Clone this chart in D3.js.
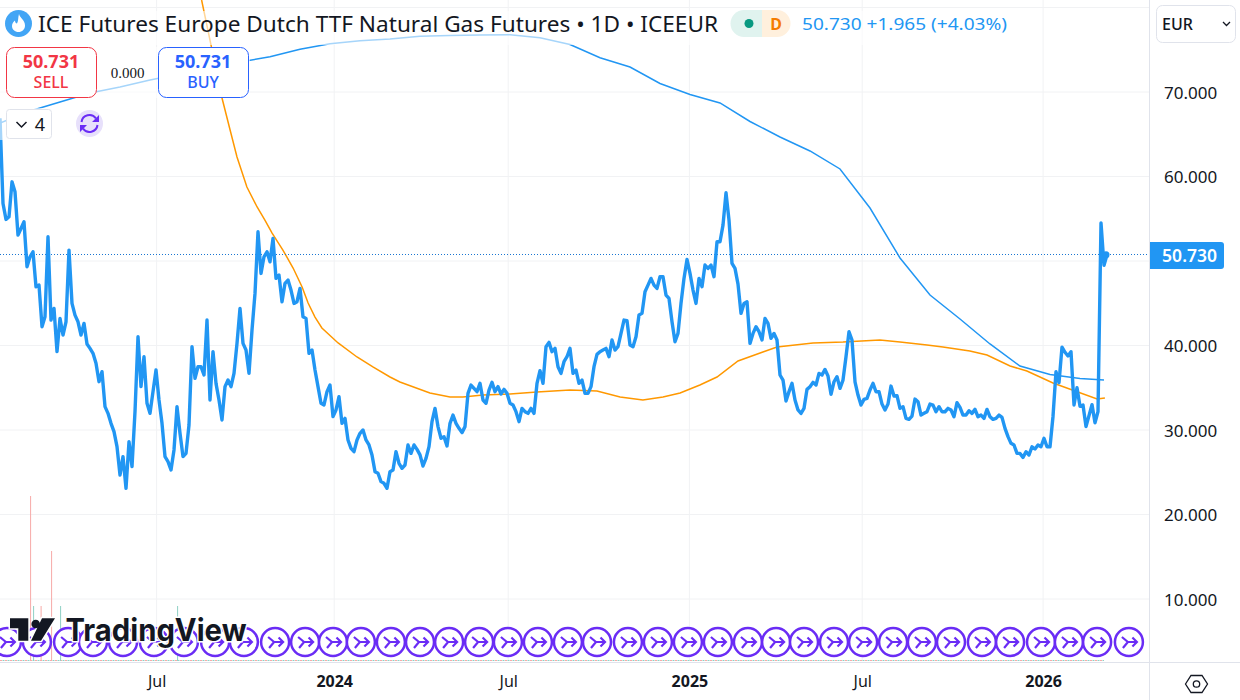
<!DOCTYPE html>
<html>
<head>
<meta charset="utf-8">
<title>Dutch TTF Natural Gas Futures</title>
<script src="https://cdn.jsdelivr.net/npm/d3@7/dist/d3.min.js"></script>
<style>
  html, body { margin: 0; padding: 0; background: #fff; }
  svg { display: block; font-family: "Noto Sans", sans-serif; }
  .axis path { display: none; }
</style>
</head>
<body>
<svg id="chart" width="1240" height="700"></svg>
<script>
// Daily closes, sampled every couple of sessions
const closes = [
  66.9,56.81,54.92,55.23,59.37,58.19,53.06,53.85,54.64,49.32,
  50.5,51.09,46.95,47.15,42.22,43.4,52.87,43.01,44.39,39.27,
  43.21,41.24,42.81,51.29,44.98,43.6,42.81,41.24,42.62,40.17,
  39.66,39.07,37.89,35.72,36.9,32.76,31.97,30.79,29.8,28.03,
  24.68,26.85,23.1,28.62,25.67,32.17,41.04,35.13,38.67,33.16,
  31.97,34.54,37.1,33.55,30.79,26.85,26.26,25.27,27.64,32.76,
  29.61,26.85,27.24,30.59,39.86,36.11,37.49,37.49,36.51,43.01,
  33.55,39.27,35.52,33.55,31.19,35.13,35.91,35.13,36.7,40.25,
  44.39,40.25,39.46,36.7,41.83,46.16,53.46,48.53,50.5,51.09,
  49.91,52.67,47.94,48.33,45.18,47.35,47.74,46.56,44.98,45.18,
  46.76,43.4,43.21,39.07,39.46,37.1,35.13,33.16,32.96,34.54,
  35.32,31.58,32.37,33.94,30.79,31.38,28.82,27.83,27.44,28.82,
  29.61,30,28.82,28.23,27.05,25.07,24.88,23.89,23.69,23.1,
  25.07,25.27,27.44,26.06,
  25.47,25.86,28.23,27.24,28.23,27.71,27.05,25.74,26.65,28.03,
  30.99,32.56,30.4,29.02,29.21,28.11,30.79,31.77,30.79,30.2,
  29.69,30.4,34.34,35.32,34.93,34.54,35.52,33.55,33.16,34.73,
  35.64,34.54,35.13,34.26,34.81,34.34,33.16,32.96,32.17,30.99,
  32.56,32.17,31.97,32.56,31.97,35.52,37.02,35.52,39.86,40.37,
  39.27,39.66,37.49,36.7,38.08,38.67,39.66,36.7,37.1,35.52,
  35.91,34.34,34.34,35.13,37.49,38.95,39.27,39.46,39.66,38.67,
  40.65,39.46,39.86,41.43,43.01,42.93,40.05,39.86,41.04,43.6,
  43.8,46.36,47.15,47.94,47.15,46.76,48.14,48.14,45.97,45.57,
  42.81,40.45,41.43,44.98,47.94,50.19,48.53,46.56,44.98,47.94,
  46.95,49.52,49.12,49.52,48.14,52.27,52.27,54.25,58.07,54.84,
  49.71,49.12,47.27,43.8,44.98,45.18,40.25,41.43,42.22,41.63,
  40.65,43.21,42.62,40.84,41.43,40.65,36.51,35.91,33.43,34.54,
  35.52,33.55,32.37,
  31.97,32.56,34.81,35.12,35.64,35.32,36.7,36.5,37.17,36.39,
  34.22,35.71,36.31,34.93,35.91,38.67,41.63,40.65,35.71,34.14,
  32.95,33.62,33.74,34.73,35.52,34.53,34.53,33.07,32.36,33.07,
  35.2,34.02,34.06,32.56,32.76,31.38,31.26,31.65,33.66,33.35,
  31.77,31.97,32.16,33.07,32.95,32.16,32.76,32.16,32.16,32.56,
  32.36,31.57,33.23,32.68,31.77,31.77,32.28,31.97,32.44,31.57,
  31.77,31.38,32.44,31.57,31.26,31.38,31.77,31.49,30.19,29.21,
  28.42,28.22,27.23,27.23,26.76,27.43,27.04,28.02,27.75,28.22,
  28.02,29.01,28.02,28.02,31.6,36.9,35.6,39.8,39.2,38.76,
  39.27,32.96,35,32.8,32.96,30.4,31.7,33,30.86,
  32.17,54.5,49.5,50.73
];

// Moving averages, read at their own bars
const blueMaBars = [0,10,20,30,40,50,60,70,80,90,100,110,120,130,140,150,160,170,180,190,200,210,220,230,240,250,260,270,280,290,300,310,320,330,340,350,360,368];
const blueMa = [66.33,67.75,68.82,69.88,70.59,71.42,72.13,72.78,73.55,74.18,75.05,75.72,76.07,76.27,76.59,76.7,76.75,76.77,76.43,75.62,74.06,72.96,71.01,69.7,68.7,66.51,64.67,63.02,60.89,56.27,50.36,45.98,43.14,40.18,37.57,36.57,36.09,35.92];
const orangeMaBars = [67.2,70,74,76.7,79,82.3,85.7,88.3,90.7,94.3,97.7,100.7,102.7,105,107.3,112.7,119,124.3,130,133.3,143.3,150,154.3,161,170,179,190,199,206.7,214.3,221,226.7,233.3,239,246,254.3,259,271,281,293.3,300,309,314.3,323.3,329,336.7,342.3,351,365.7,368.3];
const orangeMa = [80.89,76.15,69.29,65.5,62.31,58.76,56.39,54.85,53.31,51.3,49.17,46.92,45.03,43.37,42.07,40.3,38.64,37.46,36.27,35.68,34.38,33.91,33.91,34.14,34.26,34.5,34.73,34.62,33.91,33.55,33.91,34.38,35.33,36.27,38.17,39.23,39.82,40.3,40.41,40.65,40.41,40.06,39.82,39.35,38.88,37.57,36.98,35.56,33.67,33.79];

// Volume
const volumeBars = [10.2,11.2,13.7,17.2,20.2,59.2];
const volumes = [3,1,1,2,1,1];
const volumeUp = [false,true,false,false,true,true];

// Signal markers along the bottom
const signalBars = [2.3,12.3,22.7,31,41,51.3,61.3,71.7,81.3,91.7,101.7,111,120.3,130.3,140,149.7,159.7,169.3,179.3,189.3,199,209.3,219.3,229.3,239.3,249.3,258.7,268,278,287.7,297.7,307.3,317,327.3,336.7,347,356.3,365.7,376.3];

// Axis labels
const priceTicks = [10,20,30,40,50,60,70,80];
const priceLabelTicks = [10,20,30,40,60,70];
const timeBars = [52.2,111.4,169.4,229.8,287.4,347.7];
const timeLabels = ["Jul","2024","Jul","2025","Jul","2026"];
const lastPrice = 50.73;

const width = 1240;
const height = 700;
const plotRight = 1149;
const plotBottom = 661;
const blue = "#2196f3";
const purple = "#6a2cf5";
const gridColor = "#f1f2f4";

const svg = d3.select("#chart");

// Escalas
const x = d3.scaleLinear().domain([0, closes.length - 1]).range([0, 1107]);
const y = d3.scaleLinear().domain([10, 70]).range([599, 92]);
const volY = d3.scaleLinear().domain([0, 3]).range([plotBottom, 496]);

// Grid
svg.append("g").selectAll("line").data(priceTicks).enter().append("line")
    .attr("x1", 0).attr("x2", plotRight)
    .attr("y1", d => y(d)).attr("y2", d => y(d))
    .attr("stroke", gridColor).attr("stroke-width", 1);
svg.append("g").selectAll("line").data(timeBars).enter().append("line")
    .attr("x1", d => x(d)).attr("x2", d => x(d))
    .attr("y1", 0).attr("y2", plotBottom)
    .attr("stroke", gridColor).attr("stroke-width", 1);

// Volume: zero bars give a dashed red and green baseline
svg.append("line").attr("x1", 0).attr("x2", x(368)).attr("y1", plotBottom - 0.5).attr("y2", plotBottom - 0.5)
    .attr("stroke", "#f7a9a7").attr("stroke-dasharray", "2 3");
svg.append("line").attr("x1", 2.5).attr("x2", x(368)).attr("y1", plotBottom - 0.5).attr("y2", plotBottom - 0.5)
    .attr("stroke", "#8fd0c4").attr("stroke-dasharray", "2 3");
svg.append("g").selectAll("line").data(volumes).enter().append("line")
    .attr("x1", (d, i) => x(volumeBars[i])).attr("x2", (d, i) => x(volumeBars[i]))
    .attr("y1", d => volY(d)).attr("y2", plotBottom)
    .attr("stroke", (d, i) => volumeUp[i] ? "#8fd0c4" : "#f7a9a7").attr("stroke-width", 1);

// Linhas
const maLine = d3.line().x(d => x(d[0])).y(d => y(d[1]));
svg.append("path").datum(d3.zip(blueMaBars, blueMa))
    .attr("d", maLine).attr("fill", "none").attr("stroke", blue).attr("stroke-width", 1.5);
svg.append("path").datum(d3.zip(orangeMaBars, orangeMa))
    .attr("d", maLine).attr("fill", "none").attr("stroke", "#ff9800").attr("stroke-width", 1.5);
svg.append("line").attr("x1", 0).attr("x2", plotRight).attr("y1", Math.floor(y(lastPrice)) + 0.5).attr("y2", Math.floor(y(lastPrice)) + 0.5)
    .attr("stroke", "#1976d2").attr("stroke-dasharray", "1 2");
svg.append("path").datum(closes)
    .attr("d", d3.line().x((d, i) => x(i)).y(d => y(d)))
    .attr("fill", "none").attr("stroke", blue).attr("stroke-width", 3.4).attr("stroke-linejoin", "round");
svg.append("circle").attr("cx", x(closes.length - 1) - 1).attr("cy", y(lastPrice)).attr("r", 3.5).attr("fill", blue);

// Marcadores
const marker = svg.append("g").selectAll("g").data(signalBars).enter().append("g")
    .attr("transform", d => `translate(${x(d)},642)`);
marker.append("circle").attr("r", 14).attr("fill", "#fff").attr("stroke", purple).attr("stroke-width", 2.5);
marker.append("path").attr("d", "M-7,-5L-1,0H8M3.5,-4.5L8,0L3.5,4.5M-6,6L-1,0")
    .attr("fill", "none").attr("stroke", purple).attr("stroke-width", 2.2);

// Logo
const logo = svg.append("g");
logo.append("path").attr("d", "M10,618.3H28.3V640.7H18.3V628.3H10Z M42,618.3H55L41,640.7H31Z")
    .attr("fill", "#131722").attr("stroke", "#fff").attr("stroke-width", 3).attr("paint-order", "stroke");
logo.append("circle").attr("cx", 35.7).attr("cy", 624).attr("r", 4.3).attr("fill", "#131722");
logo.append("text").attr("x", 65.5).attr("y", 641).text("TradingView")
    .attr("font-family", "Inter").attr("font-weight", 700).attr("font-size", 31)
    .attr("textLength", 181).attr("lengthAdjust", "spacingAndGlyphs")
    .attr("fill", "#131722").attr("stroke", "#fff").attr("stroke-width", 3).attr("paint-order", "stroke");

// Translucent backing behind the header widgets
[[0, 11, 1015, 34], [0, 47, 250, 51], [0, 108, 105, 32]].forEach(r => {
    svg.append("rect").attr("x", r[0]).attr("y", r[1]).attr("width", r[2]).attr("height", r[3])
        .attr("fill", "#fff").attr("opacity", 0.6);
});

// Panes
svg.append("rect").attr("x", plotRight + 0.5).attr("y", 0).attr("width", width - plotRight).attr("height", height).attr("fill", "#fff");
svg.append("rect").attr("x", 0).attr("y", plotBottom + 1).attr("width", width).attr("height", height - plotBottom).attr("fill", "#fff");
svg.append("line").attr("x1", plotRight + 0.5).attr("x2", plotRight + 0.5).attr("y1", 0).attr("y2", height).attr("stroke", "#e0e3eb");
svg.append("line").attr("x1", 0).attr("x2", width).attr("y1", plotBottom + 1.5).attr("y2", plotBottom + 1.5).attr("stroke", "#e0e3eb");

// Eixos
const priceAxis = svg.append("g").attr("class", "axis").attr("transform", `translate(${plotRight},1)`)
    .call(d3.axisRight(y).tickValues(priceLabelTicks).tickSize(0).tickPadding(15).tickFormat(d3.format(".3f")));
priceAxis.selectAll("text").attr("font-size", 17).attr("font-family", "Noto Sans").attr("fill", "#131722");

const timeAxis = svg.append("g").attr("class", "axis").attr("transform", `translate(0,${plotBottom + 1})`)
    .call(d3.axisBottom(x).tickValues(timeBars).tickSize(0).tickPadding(14).tickFormat((d, i) => timeLabels[i]));
timeAxis.selectAll("text").attr("font-size", 16).attr("font-family", "Noto Sans").attr("fill", "#131722")
    .attr("font-weight", (d, i) => /^20/.test(timeLabels[i]) ? 700 : 400);

// Last price tag
svg.append("path").attr("d", "M1150,242H1221a3,3 0 0 1 3,3V266a3,3 0 0 1 -3,3H1150Z").attr("fill", blue);
svg.append("text").attr("x", 1217).attr("y", y(lastPrice) + 7).attr("text-anchor", "end")
    .attr("font-size", 17.5).attr("font-weight", 600).attr("fill", "#fff").text(d3.format(".3f")(lastPrice));

// Cabeçalho
svg.append("circle").attr("cx", 18.5).attr("cy", 23.5).attr("r", 13.5).attr("fill", "#42a5f5");
svg.append("path").attr("d", "M19,14C20,18 25,20 25,25.5C25,29.5 22,32 18.5,32C15,32 12,29.5 12,26C12,23.5 13.5,21.5 15,20.5C15,22.5 16,23.5 17,23.5C18.5,21 18,17 19,14Z")
    .attr("fill", "#fff");
svg.append("text").attr("x", 38).attr("y", 31.5).attr("font-size", 21.5).attr("fill", "#131722")
    .attr("textLength", 680).attr("lengthAdjust", "spacingAndGlyphs")
    .text("ICE Futures Europe Dutch TTF Natural Gas Futures • 1D • ICEEUR");
svg.append("path").attr("d", "M762,10H744a13.5,13.5 0 0 0 0,27H762Z").attr("fill", "#e0f3ef");
svg.append("path").attr("d", "M762,10H777a13.5,13.5 0 0 1 0,27H762Z").attr("fill", "#fff0dd");
svg.append("circle").attr("cx", 749).attr("cy", 23.5).attr("r", 4.5).attr("fill", "#089981");
svg.append("text").attr("x", 776).attr("y", 29.5).attr("text-anchor", "middle").attr("font-size", 16)
    .attr("font-weight", 700).attr("fill", "#f57c00").text("D");
svg.append("text").attr("x", 802).attr("y", 29.5).attr("font-size", 17).attr("fill", blue)
    .attr("textLength", 205).attr("lengthAdjust", "spacingAndGlyphs").text("50.730  +1.965  (+4.03%)");

// Botões
function tradeButton(left, color, price, label) {
    svg.append("rect").attr("x", left + 0.5).attr("y", 47.5).attr("width", 90).attr("height", 50).attr("rx", 8)
        .attr("fill", "#fff").attr("stroke", color);
    svg.append("text").attr("x", left + 45).attr("y", 68).attr("text-anchor", "middle").attr("font-size", 18)
        .attr("font-weight", 700).attr("fill", color).text(price);
    svg.append("text").attr("x", left + 45).attr("y", 88).attr("text-anchor", "middle").attr("font-size", 16)
        .attr("font-weight", 500).attr("fill", color).text(label);
}
tradeButton(6, "#f23645", "50.731", "SELL");
tradeButton(158, "#2962ff", "50.731", "BUY");
svg.append("text").attr("x", 127.5).attr("y", 77.5).attr("text-anchor", "middle").attr("font-family", "Liberation Serif")
    .attr("font-size", 15).attr("fill", "#131722").text("0.000");

// Quantidade e atualizar
svg.append("rect").attr("x", 6.5).attr("y", 109.5).attr("width", 45).attr("height", 29).attr("rx", 3)
    .attr("fill", "#fff").attr("stroke", "#e0e3eb");
svg.append("path").attr("d", "M16.5,122L21.5,127L26.5,122").attr("fill", "none").attr("stroke", "#131722").attr("stroke-width", 1.5);
svg.append("text").attr("x", 40).attr("y", 130.5).attr("text-anchor", "middle").attr("font-size", 18).attr("fill", "#131722").text("4");
svg.append("circle").attr("cx", 89.5).attr("cy", 123.5).attr("r", 13.5).attr("fill", "#e7e0fb");
svg.append("path").attr("d", "M81.5,122A8,8 0 0 1 96,118.5M97.5,125A8,8 0 0 1 83,128.5")
    .attr("fill", "none").attr("stroke", purple).attr("stroke-width", 2);
svg.append("path").attr("d", "M99,115V122H92Z M80,132V125H87Z").attr("fill", purple);

// Moeda
svg.append("rect").attr("x", 1156.5).attr("y", 5.5).attr("width", 79).attr("height", 37).attr("rx", 6)
    .attr("fill", "#fff").attr("stroke", "#e0e3eb");
svg.append("text").attr("x", 1162).attr("y", 30).attr("font-size", 16).attr("font-weight", 500).attr("fill", "#131722").text("EUR");
svg.append("path").attr("d", "M1223,22L1226.5,25.5L1230,22").attr("fill", "none").attr("stroke", "#131722").attr("stroke-width", 1.3);

// Configurações
svg.append("path").attr("d", "M1185.5,684L1191,675.5H1202L1207.5,684L1202,692.5H1191Z").attr("fill", "none").attr("stroke", "#131722").attr("stroke-width", 1.3);
svg.append("circle").attr("cx", 1196.5).attr("cy", 684).attr("r", 3.2).attr("fill", "none").attr("stroke", "#131722").attr("stroke-width", 1.3);
</script>
</body>
</html>
